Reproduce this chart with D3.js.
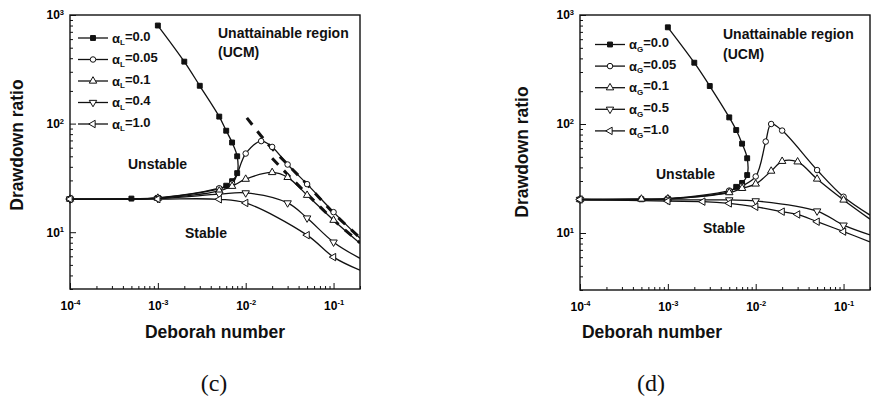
<!DOCTYPE html>
<html>
<head>
<meta charset="utf-8">
<script src="https://cdn.jsdelivr.net/npm/d3@7"></script>
<style>
body{margin:0;background:#fff;}
svg{display:block;}
.frame{fill:none;stroke:#111;stroke-width:1.4px;}
.curve{fill:none;stroke:#111;stroke-width:1.3px;}
.ucm{fill:none;stroke:#111;stroke-width:3px;stroke-dasharray:9,8;}
.lab{font-family:"Liberation Sans",Arial,sans-serif;font-weight:bold;fill:#111;}
.cap{font-family:"Liberation Serif","Times New Roman",serif;fill:#111;}
</style>
</head>
<body>
<script>
//wrapping everything in a self executing function
(function(){
//axis decades
var deborahTicks = [1e-4, 1e-3, 1e-2, 1e-1];
var ratioTicks = [10, 100, 1000];
var deborahDomain = [1e-4, 0.2];
var ratioDomain = [3, 1000];

//panel (c): [Deborah number, drawdown ratio] for each alpha_L
var cAlpha00 = [[1e-4,20.2],[5e-4,20.4],[1e-3,20.7],[0.005,25],[0.006,26.8],[0.007,29.5],[0.008,35],[0.008,50],[0.007,67],[0.006,86],[0.005,116],[0.003,223],[0.002,372],[0.001,800]];
var cAlpha005 = [[1e-4,20.2],[1e-3,20.7],[0.005,25.4],[0.007,28],[0.01,53],[0.015,69],[0.02,61],[0.03,42],[0.05,27.7],[0.1,15.3],[0.2,8.8]];
var cAlpha01 = [[1e-4,20.2],[1e-3,20.6],[0.005,24],[0.007,26.5],[0.01,30.8],[0.02,35.5],[0.03,32],[0.05,21.9],[0.1,12.9],[0.2,7.9]];
var cAlpha04 = [[1e-4,20.2],[1e-3,20.4],[0.005,22.4],[0.01,23],[0.03,18.6],[0.05,13.5],[0.1,8.1],[0.2,5.75]];
var cAlpha10 = [[1e-4,20.2],[1e-3,20.2],[0.005,20.1],[0.01,18.6],[0.05,9.4],[0.1,5.9],[0.2,4.47]];
//UCM limits drawn dashed in panel (c)
var cUcmUpper = [[0.0103,113],[0.0156,74],[0.0192,61],[0.03,42],[0.05,27.5],[0.1,15],[0.2,8.9]];
var cUcmLower = [[0.02,48],[0.03,34],[0.05,22.5],[0.1,13],[0.2,8.0]];
var cLabels = ["0.0", "0.05", "0.1", "0.4", "1.0"];

//panel (d): alpha_G series
var dAlpha00 = [[1e-4,20.3],[5e-4,20.4],[1e-3,20.6],[0.005,24],[0.006,26.5],[0.007,28.8],[0.008,34],[0.008,48.5],[0.007,66],[0.006,88],[0.005,115],[0.003,223],[0.002,365],[0.001,771]];
var dAlpha005 = [[1e-4,20.3],[1e-3,20.7],[0.005,24.5],[0.007,27],[0.01,33],[0.013,69],[0.015,100],[0.02,87],[0.05,37.8],[0.1,21.5],[0.2,14.6]];
var dAlpha01 = [[1e-4,20.3],[5e-4,20.5],[1e-3,20.6],[0.005,23.5],[0.007,25.7],[0.01,28.2],[0.015,37],[0.02,45.5],[0.03,45],[0.05,31.3],[0.1,20.1],[0.2,13.4]];
var dAlpha05 = [[1e-4,20.3],[1e-3,20.1],[0.005,20.1],[0.01,19.7],[0.05,15.9],[0.1,11.8],[0.2,9.6]];
var dAlpha10 = [[1e-4,20.3],[1e-3,19.6],[0.0025,19.4],[0.005,18.7],[0.01,17.4],[0.02,15.7],[0.03,14.8],[0.05,12.7],[0.1,10.3],[0.2,8.3]];
var dLabels = ["0.0", "0.05", "0.1", "0.5", "1.0"];

var markerTypes = ["square", "circle", "up", "down", "left"];

var svg = d3.select("body").append("svg")
    .attr("width", 871)
    .attr("height", 400);

drawPanel({
    name: "c", left: 70, right: 360, top: 15, bottom: 289,
    series: [cAlpha00, cAlpha005, cAlpha01, cAlpha04, cAlpha10],
    dashed: [cUcmUpper, cUcmLower],
    sub: "L", labels: cLabels,
    legendX: 78, legendY: 38, legendStep: 21.5,
    notes: [["Unattainable region", 218, 38], ["(UCM)", 218, 57], ["Unstable", 128, 169], ["Stable", 185, 238]],
    yTitle: [17, 145], xTitle: [215, 332], caption: ["(c)", 214, 391]
});
drawPanel({
    name: "d", left: 580, right: 870, top: 15, bottom: 290,
    series: [dAlpha00, dAlpha005, dAlpha01, dAlpha05, dAlpha10],
    dashed: [],
    sub: "G", labels: dLabels,
    legendX: 595, legendY: 44.5, legendStep: 21.6,
    notes: [["Unattainable region", 723, 39], ["(UCM)", 723, 59], ["Unstable", 656, 179], ["Stable", 703, 233]],
    yTitle: [522, 152], xTitle: [652, 332], caption: ["(d)", 651, 391]
});

//marker glyph at a point
function addMarker(g, type, cx, cy){
    var sym;
    var rot = 0;
    if (type == "square") sym = d3.symbol().type(d3.symbolSquare).size(24);
    else if (type == "circle") sym = d3.symbol().type(d3.symbolCircle).size(24);
    else {
        sym = d3.symbol().type(d3.symbolTriangle).size(24);
        if (type == "down") rot = 180;
        if (type == "left") rot = -90;
    };
    g.append("path")
        .attr("d", sym())
        .attr("transform", "translate(" + cx + "," + cy + ") rotate(" + rot + ")")
        .style("fill", type == "square" ? "#111" : "#fff")
        .style("stroke", "#111")
        .style("stroke-width", 1);
};

//put "10" with a superscript exponent into tick labels
function powerLabels(sel){
    sel.selectAll(".tick text").each(function(d){
        var t = d3.select(this).text(null);
        t.append("tspan").text("10");
        t.append("tspan")
            .attr("dy", "-0.55em")
            .attr("font-size", "7.5px")
            .text(Math.round(Math.log10(d)));
    });
};

function isDecade(v){
    var l = Math.log10(v);
    return Math.abs(l - Math.round(l)) < 1e-6;
};

function drawPanel(p){
    var x = d3.scaleLog().domain(deborahDomain).range([p.left, p.right]);
    var y = d3.scaleLog().domain(ratioDomain).range([p.bottom, p.top]);
    var g = svg.append("g");

    //clip the curves to the frame
    svg.append("clipPath").attr("id", "clip" + p.name)
        .append("rect")
        .attr("x", p.left).attr("y", p.top)
        .attr("width", p.right - p.left).attr("height", p.bottom - p.top);

    //minor ticks
    var xMinor = x.ticks().filter(function(v){ return !isDecade(v); });
    var yMinor = y.ticks().filter(function(v){ return !isDecade(v); });
    g.append("g")
        .attr("transform", "translate(0," + p.bottom + ")")
        .call(d3.axisBottom(x).tickValues(xMinor).tickSize(-3).tickFormat(""))
        .call(function(a){ a.select(".domain").remove(); });
    g.append("g")
        .attr("transform", "translate(" + p.left + ",0)")
        .call(d3.axisLeft(y).tickValues(yMinor).tickSize(-3).tickFormat(""))
        .call(function(a){ a.select(".domain").remove(); });

    //major ticks with labels
    var xAxis = g.append("g")
        .attr("class", "lab")
        .attr("transform", "translate(0," + p.bottom + ")")
        .call(d3.axisBottom(x).tickValues(deborahTicks).tickSize(-6).tickPadding(12).tickFormat(""));
    var yAxis = g.append("g")
        .attr("class", "lab")
        .attr("transform", "translate(" + p.left + ",0)")
        .call(d3.axisLeft(y).tickValues(ratioTicks).tickSize(-6).tickPadding(6).tickFormat(""));
    [xAxis, yAxis].forEach(function(a){
        a.attr("font-size", 12).attr("font-family", null);
        a.select(".domain").remove();
        powerLabels(a);
    });
    g.selectAll(".tick line").style("stroke", "#111").style("stroke-width", 1);

    //frame
    g.append("rect")
        .attr("class", "frame")
        .attr("x", p.left).attr("y", p.top)
        .attr("width", p.right - p.left).attr("height", p.bottom - p.top);

    var line = d3.line()
        .x(function(d){ return x(d[0]); })
        .y(function(d){ return y(d[1]); })
        .curve(d3.curveCatmullRom.alpha(0.5));

    var plot = g.append("g").attr("clip-path", "url(#clip" + p.name + ")");

    //dashed UCM limits
    p.dashed.forEach(function(s){
        plot.append("path").attr("class", "ucm").attr("d", line(s));
    });

    //curves and markers
    p.series.forEach(function(s, i){
        plot.append("path").attr("class", "curve").attr("d", line(s));
        s.forEach(function(d){
            if (d[0] < 0.19) addMarker(g, markerTypes[i], x(d[0]), y(d[1]));
        });
    });

    //legend
    p.labels.forEach(function(lbl, i){
        var ly = p.legendY + i * p.legendStep;
        g.append("line")
            .attr("x1", p.legendX).attr("x2", p.legendX + 30)
            .attr("y1", ly).attr("y2", ly)
            .style("stroke", "#111").style("stroke-width", 1.3);
        addMarker(g, markerTypes[i], p.legendX + 15, ly);
        var t = g.append("text")
            .attr("class", "lab")
            .attr("x", p.legendX + 34)
            .attr("y", ly + 4.5)
            .attr("font-size", "13px");
        t.append("tspan").text("α");
        t.append("tspan").attr("dy", "0.35em").attr("font-size", "8px").text(p.sub);
        t.append("tspan").attr("dy", "-0.35em").text("=" + lbl);
    });

    //region notes
    p.notes.forEach(function(n){
        g.append("text")
            .attr("class", "lab")
            .attr("x", n[1]).attr("y", n[2])
            .attr("font-size", "14px")
            .text(n[0]);
    });

    //axis titles
    g.append("text")
        .attr("class", "lab")
        .attr("transform", "translate(" + p.yTitle[0] + "," + p.yTitle[1] + ") rotate(-90)")
        .attr("text-anchor", "middle")
        .attr("dy", "0.36em")
        .attr("font-size", "17.5px")
        .text("Drawdown ratio");
    g.append("text")
        .attr("class", "lab")
        .attr("x", p.xTitle[0]).attr("y", p.xTitle[1])
        .attr("text-anchor", "middle")
        .attr("dy", "0.36em")
        .attr("font-size", "17.5px")
        .text("Deborah number");

    //panel caption
    g.append("text")
        .attr("class", "cap")
        .attr("x", p.caption[1]).attr("y", p.caption[2])
        .attr("text-anchor", "middle")
        .attr("font-size", "24px")
        .text(p.caption[0]);
};
})();
</script>
</body>
</html>
